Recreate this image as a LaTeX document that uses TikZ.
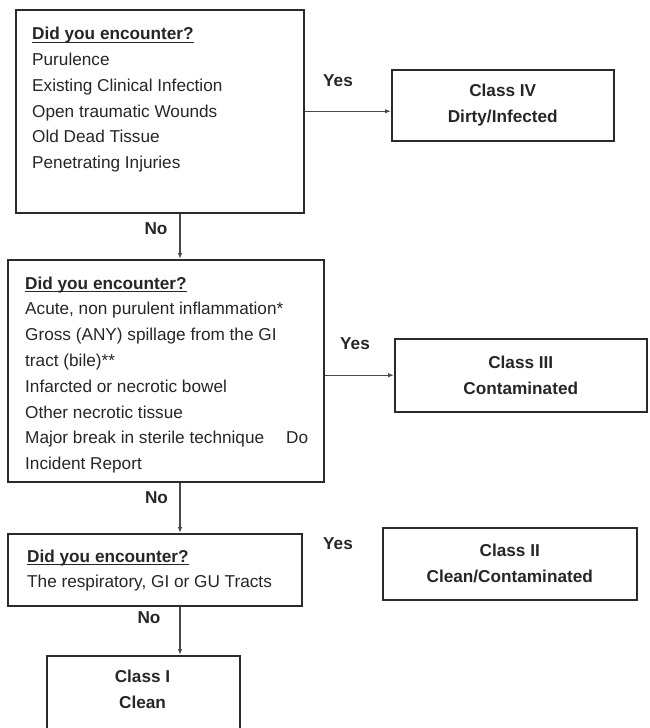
\documentclass[tikz,border=0pt]{standalone}
\usepackage{fontspec}
\setmainfont{Liberation Sans}
\usetikzlibrary{arrows.meta}
\definecolor{ink}{HTML}{262626}
\definecolor{edge}{HTML}{2B2B2B}
\definecolor{wire}{HTML}{4A4A4A}
% underlined question heading used in each decision box
\newsavebox\qheadbox
\newcommand\qhead{\sbox\qheadbox{\textbf{Did you encounter?}}\usebox\qheadbox\llap{\rule[-3.4pt]{\wd\qheadbox}{1.2pt}}}
\begin{document}
\begin{tikzpicture}[x=1pt,y=-1pt,
  txt/.style={font=\fontsize{17.2}{25.8}\selectfont, text=ink},
  qbox/.style={draw=edge, line width=1.5pt, anchor=north west, inner sep=0pt},
  cbox/.style={draw=edge, line width=1.5pt, anchor=north west, inner sep=0pt,
    align=center, text=ink, font=\fontsize{17.2}{25.8}\selectfont\bfseries},
  body/.style={txt, anchor=north west, align=left, inner sep=0pt},
  tag/.style={text=ink, font=\fontsize{17.2}{25.8}\selectfont\bfseries, anchor=base, inner sep=0pt},
  flow/.style={draw=wire, line width=1.1pt, -{Latex[length=6pt,width=4.5pt]}},
]
\useasboundingbox (0,0) rectangle (649,728);
\clip (0,0) rectangle (649,728);

% decision boxes
\node[qbox, minimum width=288pt, minimum height=203pt] (q1) at (15,9) {};
\node[body] (q1t) at (32,27) {\qhead\\Purulence\\Existing Clinical Infection\\Open traumatic Wounds\\Old Dead Tissue\\Penetrating Injuries};

\node[qbox, minimum width=316pt, minimum height=222pt] (q2) at (7,259) {};
\node[body] (q2t) at (25,276.4) {\qhead\\Acute, non purulent inflammation*\\Gross (ANY) spillage from the GI\\tract (bile)**\\Infarcted or necrotic bowel\\Other necrotic tissue\\Major break in sterile technique\hspace{22pt}Do\\Incident Report};

\node[qbox, minimum width=294pt, minimum height=72pt] (q3) at (7,533) {};
\node[body] (q3t) at (27,549.4) {\qhead\\The respiratory, GI or GU Tracts};

% wound classes
\node[cbox, minimum width=222pt, minimum height=71pt] (c4) at (391,69) {Class IV\\Dirty/Infected};
\node[cbox, minimum width=252pt, minimum height=73pt] (c3) at (394,338) {Class III\\Contaminated};
\node[cbox, minimum width=254pt, minimum height=72pt] (c2) at (382,527) {Class II\\Clean/Contaminated};
\node[qbox, minimum width=193pt, minimum height=100pt] (c1) at (46,655) {};
\node[text=ink, font=\fontsize{17.2}{25.8}\selectfont\bfseries, align=center, inner sep=0pt] (c1t) at (142.5,689) {Class I\\Clean};

% branch labels
\node[tag] (y1) at (338,86) {Yes};
\node[tag] (y2) at (355,349) {Yes};
\node[tag] (y3) at (338,549) {Yes};
\node[tag] (n1) at (156,234) {No};
\node[tag] (n2) at (156.5,503) {No};
\node[tag] (n3) at (149,623) {No};

% connectors
\coordinate (vx) at (180,0);
\draw[flow] (q1.south -| vx) -- (q2.north -| vx);
\draw[flow] (q2.south -| vx) -- (q3.north -| vx);
\draw[flow] (q3.south -| vx) -- (c1.north -| vx);
\draw[flow] (q1.east) -- (q1.east -| c4.west);
\draw[flow] (q2.east |- c3.west) -- (c3.west);
\end{tikzpicture}
\end{document}
